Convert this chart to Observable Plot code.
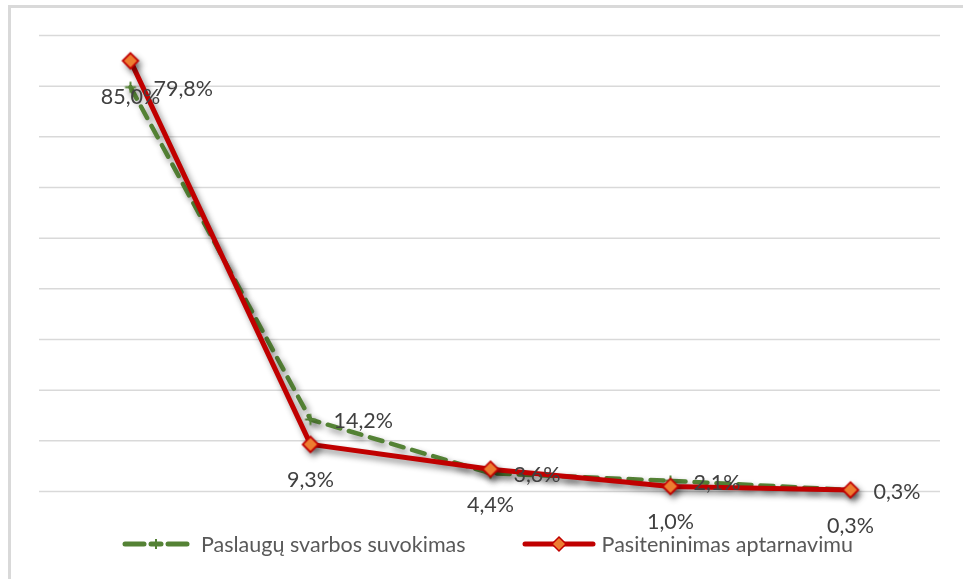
<!DOCTYPE html>
<html>
<head>
<meta charset="utf-8">
<script src="https://cdn.jsdelivr.net/npm/d3@7"></script>
<script src="https://cdn.jsdelivr.net/npm/@observablehq/plot@0.6"></script>
<style>
  html, body { margin: 0; padding: 0; background: #fff; overflow: hidden; }
  body { width: 963px; height: 579px; position: relative; font-family: Lato, "Open Sans", sans-serif; }
  #frame { position: absolute; left: 8px; top: 5px; width: 1000px; height: 620px; border: 3px solid #d9d9d9; box-sizing: border-box; }
  #chart { position: absolute; left: 0; top: 0; }
  #legend { position: absolute; left: 0; top: 531px; width: 975px; display: flex; justify-content: center; gap: 56px; align-items: center; font-size: 21.5px; color: #595959; }
  .item { display: flex; align-items: center; gap: 11px; }
  .item svg { display: block; }
</style>
</head>
<body>
<div id="frame"></div>
<div id="chart"></div>
<div id="legend"></div>
<script>
// Answer categories along the x axis (not labelled on the chart)
const categories = ["1", "2", "3", "4", "5"];
// Series values, percent
const svarbosSuvokimas = [79.8, 14.2, 3.6, 2.1, 0.3];
const pasitenkinimas = [85.0, 9.3, 4.4, 1.0, 0.3];
// Series names
const seriesNames = ["Paslaugų svarbos suvokimas", "Pasiteninimas aptarnavimu"];
// Horizontal gridline values
const gridTicks = [0, 10, 20, 30, 40, 50, 60, 70, 80, 90];

const green = "#548235";
const red = "#c00000";
const orange = "#ed7d31";
const fmt = v => v.toFixed(1).replace(".", ",") + "%";

const greenData = categories.map((c, i) => ({cat: c, value: svarbosSuvokimas[i]}));
const redData = categories.map((c, i) => ({cat: c, value: pasitenkinimas[i]}));

const chart = Plot.plot({
  width: 963,
  height: 520,
  marginTop: 35,
  marginBottom: 29,
  marginLeft: 39,
  marginRight: 23,
  style: {fontFamily: "Lato, 'Open Sans', sans-serif", background: "transparent", overflow: "visible"},
  x: {type: "point", domain: categories, padding: 0.5, axis: null},
  y: {domain: [0, 90], axis: null},
  marks: [
    Plot.ruleY(gridTicks, {stroke: "#d9d9d9", strokeWidth: 1.5}),
    Plot.line(greenData, {x: "cat", y: "value", stroke: green, strokeWidth: 4.5,
      strokeDasharray: "13 9", strokeLinecap: "round", strokeLinejoin: "round"}),
    Plot.dot(greenData, {x: "cat", y: "value", symbol: "plus", r: 3.6, stroke: green, strokeWidth: 2}),
    Plot.line(redData, {x: "cat", y: "value", stroke: red, strokeWidth: 5, strokeLinejoin: "round"}),
    Plot.dot(redData, {x: "cat", y: "value", symbol: "diamond2", r: 7, fill: orange, stroke: red, strokeWidth: 1.8}),
    Plot.text(greenData, {x: "cat", y: "value", text: d => fmt(d.value), textAnchor: "start",
      dx: 23, dy: 2, fontSize: 21.5, fill: "#404040"}),
    Plot.text(redData, {x: "cat", y: "value", text: d => fmt(d.value),
      dy: 36, fontSize: 21.5, fill: "#404040"})
  ]
});

// soft drop shadow under the series lines and markers
d3.select(chart).selectAll('g[aria-label="line"], g[aria-label="dot"]')
  .style("filter", "drop-shadow(3px 4px 3px rgba(0,0,0,0.45))");

document.getElementById("chart").appendChild(chart);

// legend below the plot
const legend = d3.select("#legend");
const g1 = legend.append("div").attr("class", "item");
const s1 = g1.append("svg").attr("width", 68).attr("height", 14);
s1.append("line").attr("x1", 3).attr("x2", 22).attr("y1", 7).attr("y2", 7)
  .attr("stroke", green).attr("stroke-width", 5).attr("stroke-linecap", "round");
s1.append("line").attr("x1", 29).attr("x2", 39).attr("y1", 7).attr("y2", 7)
  .attr("stroke", green).attr("stroke-width", 5).attr("stroke-linecap", "round");
s1.append("line").attr("x1", 34).attr("x2", 34).attr("y1", 2).attr("y2", 12)
  .attr("stroke", green).attr("stroke-width", 2);
s1.append("line").attr("x1", 46).attr("x2", 65).attr("y1", 7).attr("y2", 7)
  .attr("stroke", green).attr("stroke-width", 5).attr("stroke-linecap", "round");
g1.append("span").text(seriesNames[0]);

const g2 = legend.append("div").attr("class", "item").style("gap", "6px");
const s2 = g2.append("svg").attr("width", 74).attr("height", 18);
s2.append("line").attr("x1", 3).attr("x2", 71).attr("y1", 9).attr("y2", 9)
  .attr("stroke", red).attr("stroke-width", 5).attr("stroke-linecap", "round");
s2.append("path").attr("d", "M37,2 L44,9 L37,16 L30,9 Z")
  .attr("fill", orange).attr("stroke", red).attr("stroke-width", 1.5);
g2.append("span").text(seriesNames[1]);
</script>
</body>
</html>
